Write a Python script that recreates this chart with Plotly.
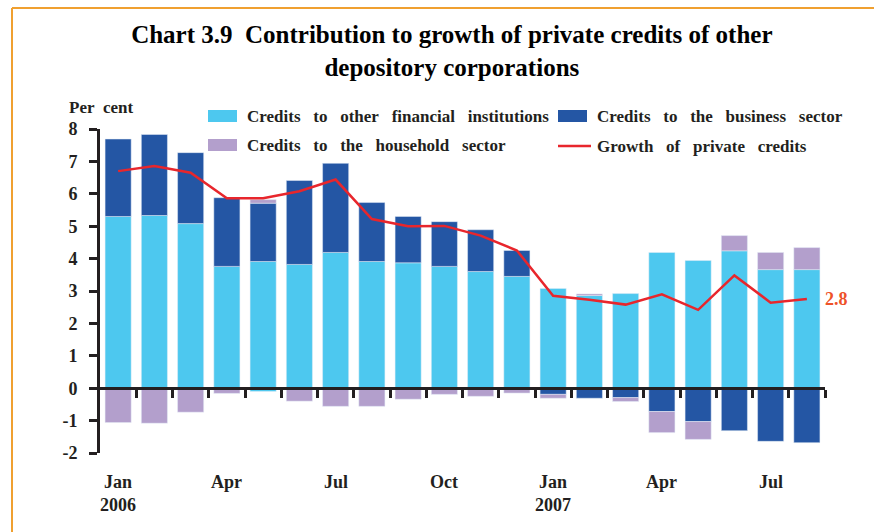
import plotly.graph_objects as go

months = ["Jan 2006", "Feb 2006", "Mar 2006", "Apr 2006", "May 2006", "Jun 2006",
          "Jul 2006", "Aug 2006", "Sep 2006", "Oct 2006", "Nov 2006", "Dec 2006",
          "Jan 2007", "Feb 2007", "Mar 2007", "Apr 2007", "May 2007", "Jun 2007",
          "Jul 2007", "Aug 2007"]
other_financial = [5.30, 5.33, 5.08, 3.76, 3.91, 3.82, 4.19, 3.91, 3.87, 3.76,
                   3.60, 3.45, 3.08, 2.86, 2.92, 4.19, 3.94, 4.24, 3.66, 3.66]
other_financial_neg = [None, None, None, None, -0.10, None, None, None, None, None,
                       None, None, None, None, None, None, None, None, None, None]
business = [2.39, 2.50, 2.19, 2.12, 1.80, 2.59, 2.75, 1.82, 1.43, 1.38,
            1.29, 0.80, -0.19, -0.31, -0.29, -0.72, -1.03, -1.31, -1.64, -1.68]
household = [-1.06, -1.08, -0.74, -0.16, 0.11, -0.40, -0.56, -0.56, -0.34, -0.19,
             -0.25, -0.15, -0.12, 0.05, -0.12, -0.65, -0.55, 0.47, 0.53, 0.68]
growth = [6.70, 6.86, 6.65, 5.86, 5.86, 6.08, 6.44, 5.22, 5.00, 5.01,
          4.71, 4.25, 2.85, 2.73, 2.58, 2.90, 2.42, 3.48, 2.64, 2.75]
tick_labels = {0: "Jan<br>2006", 3: "Apr", 6: "Jul", 9: "Oct",
               12: "Jan<br>2007", 15: "Apr", 18: "Jul"}
y_ticks = [-2, -1, 0, 1, 2, 3, 4, 5, 6, 7, 8]
y_ticktext = ["-2", "-1", "0", "1", "2", "3", "4", "5", "6", "7", "8"]
last_label = "2.8"

W, H = 874, 532
ML, MR, MT, MB = 100, 49, 129, 79
PW, PH = W - ML - MR, H - MT - MB

def px(x):
    return (x - ML) / PW

def py(y):
    return (H - MB - y) / PH

C_CYAN = "#4DC8EF"
C_DARK = "#2456A4"
C_PURP = "#B39FCC"
C_RED = "#E8262C"
INK = "#231F20"
FONT = "Liberation Serif"

xs = list(range(len(months)))

fig = go.Figure()
fig.add_bar(x=xs, y=other_financial, marker_color=C_CYAN, width=0.72,
            name="Credits to other financial institutions", showlegend=False)
fig.add_bar(x=xs, y=other_financial_neg, marker_color=C_CYAN, width=0.72,
            showlegend=False)
fig.add_bar(x=xs, y=business, marker_color=C_DARK, width=0.72,
            name="Credits to the business sector", showlegend=False)
fig.add_bar(x=xs, y=household, marker_color=C_PURP, width=0.72,
            name="Credits to the household sector", showlegend=False)
fig.add_scatter(x=xs, y=growth, mode="lines", line=dict(color=C_RED, width=2.5),
                name="Growth of private credits", showlegend=False)

# month labels
for i, t in tick_labels.items():
    fig.add_annotation(x=i, y=py(470), xref="x", yref="paper", text=t,
                       showarrow=False, yanchor="top",
                       font=dict(family=FONT, size=18, color=INK, weight="bold"))

# last value label
fig.add_annotation(x=len(xs) - 0.5, y=growth[-1], xref="x", yref="y", text=last_label,
                   showarrow=False, xanchor="left", xshift=-2,
                   font=dict(family=FONT, size=18, color="#EE5228", weight="bold"))

# Per cent
fig.add_annotation(x=px(67), y=py(108), xref="paper", yref="paper",
                   text="Per&nbsp;&nbsp;cent",
                   showarrow=False, xanchor="left", yanchor="middle",
                   font=dict(family=FONT, size=17, color=INK, weight="bold"))

# legend (manual)
legend_items = [
    ("rect", C_CYAN, 208, 116, "Credits to other financial institutions"),
    ("rect", C_DARK, 558, 116, "Credits to the business sector"),
    ("rect", C_PURP, 208, 145, "Credits to the household sector"),
    ("line", C_RED, 558, 146, "Growth of private credits"),
]
for kind, col, x0, yc, label in legend_items:
    if kind == "rect":
        fig.add_shape(type="rect", xref="paper", yref="paper",
                      x0=px(x0), x1=px(x0 + 29), y0=py(yc - 6), y1=py(yc + 6),
                      fillcolor=col, line_width=0)
    else:
        fig.add_shape(type="line", xref="paper", yref="paper",
                      x0=px(x0), x1=px(x0 + 33), y0=py(yc), y1=py(yc),
                      line=dict(color=col, width=2.5))
    fig.add_annotation(x=px(x0 + 37), y=py(yc), xref="paper", yref="paper",
                       text=label.replace(" ", "&nbsp;&nbsp;&nbsp;"), showarrow=False,
                       xanchor="left", yanchor="middle",
                       font=dict(family=FONT, size=17, color=INK, weight="bold"))

# orange frame
fig.add_shape(type="line", xref="paper", yref="paper", x0=px(12), x1=px(874),
              y0=py(8), y1=py(8), line=dict(color="#F0A030", width=2))
fig.add_shape(type="line", xref="paper", yref="paper", x0=px(12), x1=px(12),
              y0=py(8), y1=py(532), line=dict(color="#F0A030", width=2))

fig.update_layout(
    width=W, height=H,
    margin=dict(l=ML, r=MR, t=MT, b=MB),
    paper_bgcolor="white", plot_bgcolor="white",
    barmode="relative", bargap=0.28,
    title=dict(text="Chart 3.9  Contribution to growth of private credits of other<br>depository corporations",
               x=0.517, xanchor="center", y=1 - 43 / H, yanchor="middle",
               font=dict(family=FONT, size=25, color="black", weight="bold")),
    xaxis=dict(range=[-0.5, len(xs) - 0.5], anchor="free", position=0.2,
               showline=True, linecolor=INK, linewidth=3,
               tickvals=[i + 0.5 for i in range(len(xs))],
               ticktext=["" for _ in xs], ticks="outside", ticklen=8,
               tickwidth=3, tickcolor=INK, showgrid=False, zeroline=False),
    yaxis=dict(range=[-2, 8], tickvals=y_ticks, ticktext=y_ticktext,
               showline=True, linecolor=INK, linewidth=3,
               ticks="outside", ticklen=8, tickwidth=3, tickcolor=INK,
               showgrid=False, zeroline=False, ticklabelstandoff=8,
               tickfont=dict(family=FONT, size=18, color=INK, weight="bold")),
    showlegend=False,
)

fig.write_html("out.html")
